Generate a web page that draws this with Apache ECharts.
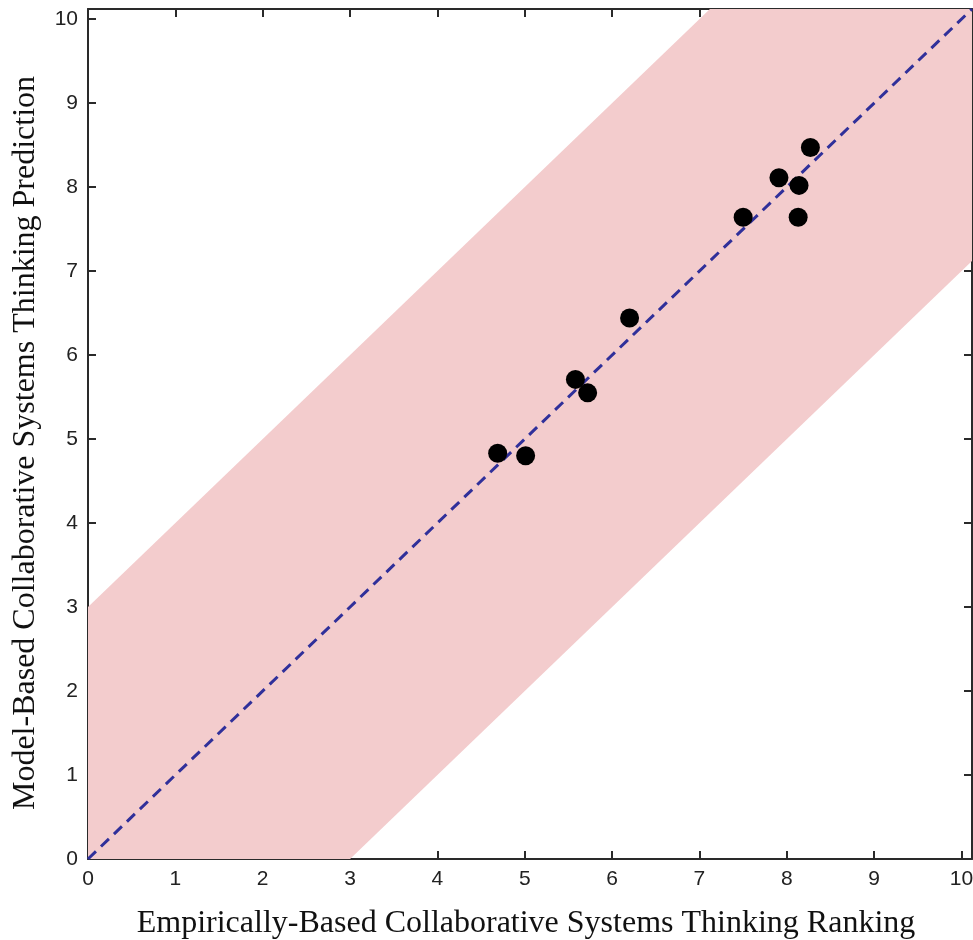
<!DOCTYPE html>
<html>
<head>
<meta charset="utf-8">
<script src="https://cdn.jsdelivr.net/npm/echarts@6/dist/echarts.min.js"></script>
<style>
  html, body { margin: 0; padding: 0; background: #fff; }
  #chart { width: 973px; height: 940px; }
</style>
</head>
<body>
<div id="chart"></div>
<script>
// empirical ranking (x) vs model prediction (y)
const empirical = [8.27, 7.91, 8.14, 7.50, 8.13, 6.20, 5.58, 5.72, 4.69, 5.01]
const predicted = [8.47, 8.11, 8.02, 7.64, 7.64, 6.44, 5.71, 5.55, 4.83, 4.80]
const axisMin = 0
const axisMax = 10.12
const tickStep = 1
const bandOffset = 3

const xTitle = 'Empirically-Based Collaborative Systems Thinking Ranking'
const yTitle = 'Model-Based Collaborative Systems Thinking Prediction'

const points = empirical.map((x, i) => [x, predicted[i]])

// band |y - x| <= bandOffset, clipped to the axis box
const band = [
  [axisMin, axisMin],
  [axisMin, axisMin + bandOffset],
  [axisMax - bandOffset, axisMax],
  [axisMax, axisMax],
  [axisMax, axisMax - bandOffset],
  [axisMin + bandOffset, axisMin],
]

const chart = echarts.init(document.getElementById('chart'))

const tickLabel = {
  fontFamily: 'Liberation Sans',
  fontSize: 21,
  color: '#222',
  formatter: v => (Number.isInteger(v) ? String(v) : ''),
}
const axisLine = { show: true, onZero: false, lineStyle: { color: '#2a2a2a', width: 2 } }
const axisTick = { show: true, inside: true, length: 8, lineStyle: { color: '#2a2a2a', width: 2 } }
const titleStyle = { fontFamily: 'Liberation Serif', fontSize: 32, color: '#111' }

chart.setOption({
  animation: false,
  grid: { left: 88, right: 1, top: 9, bottom: 81, outerBoundsMode: 'none', containLabel: false },
  xAxis: [
    {
      type: 'value', position: 'bottom', min: axisMin, max: axisMax, interval: tickStep,
      axisLine, axisTick, splitLine: { show: false },
      axisLabel: { ...tickLabel, margin: 10 },
      name: xTitle, nameLocation: 'middle', nameGap: 49,
      nameTextStyle: { ...titleStyle, padding: [0, 8, 0, 0] },
    },
    {
      type: 'value', position: 'top', min: axisMin, max: axisMax, interval: tickStep,
      axisLine, axisTick, axisLabel: { show: false }, splitLine: { show: false },
    },
  ],
  yAxis: [
    {
      type: 'value', position: 'left', min: axisMin, max: axisMax, interval: tickStep,
      axisLine, axisTick, splitLine: { show: false },
      axisLabel: { ...tickLabel, margin: 10 },
      name: yTitle, nameLocation: 'middle', nameGap: 46,
      nameTextStyle: { ...titleStyle, padding: [0, 18, 0, 0] },
    },
    {
      type: 'value', position: 'right', min: axisMin, max: axisMax, interval: tickStep,
      axisLine, axisTick, axisLabel: { show: false }, splitLine: { show: false },
    },
  ],
  series: [
    {
      type: 'custom',
      silent: true,
      z: 1,
      data: [0],
      renderItem: (params, api) => ({
        type: 'polygon',
        shape: { points: band.map(p => api.coord(p)) },
        style: { fill: '#f3cccd' },
      }),
    },
    {
      type: 'line',
      z: 2,
      data: [[axisMin, axisMin], [axisMax, axisMax]],
      symbol: 'none',
      lineStyle: { color: '#30309a', width: 3, type: [11, 7] },
    },
    {
      type: 'scatter',
      z: 3,
      data: points,
      symbol: 'circle',
      symbolSize: 19,
      itemStyle: { color: '#000', opacity: 1 },
    },
  ],
})
</script>
</body>
</html>
